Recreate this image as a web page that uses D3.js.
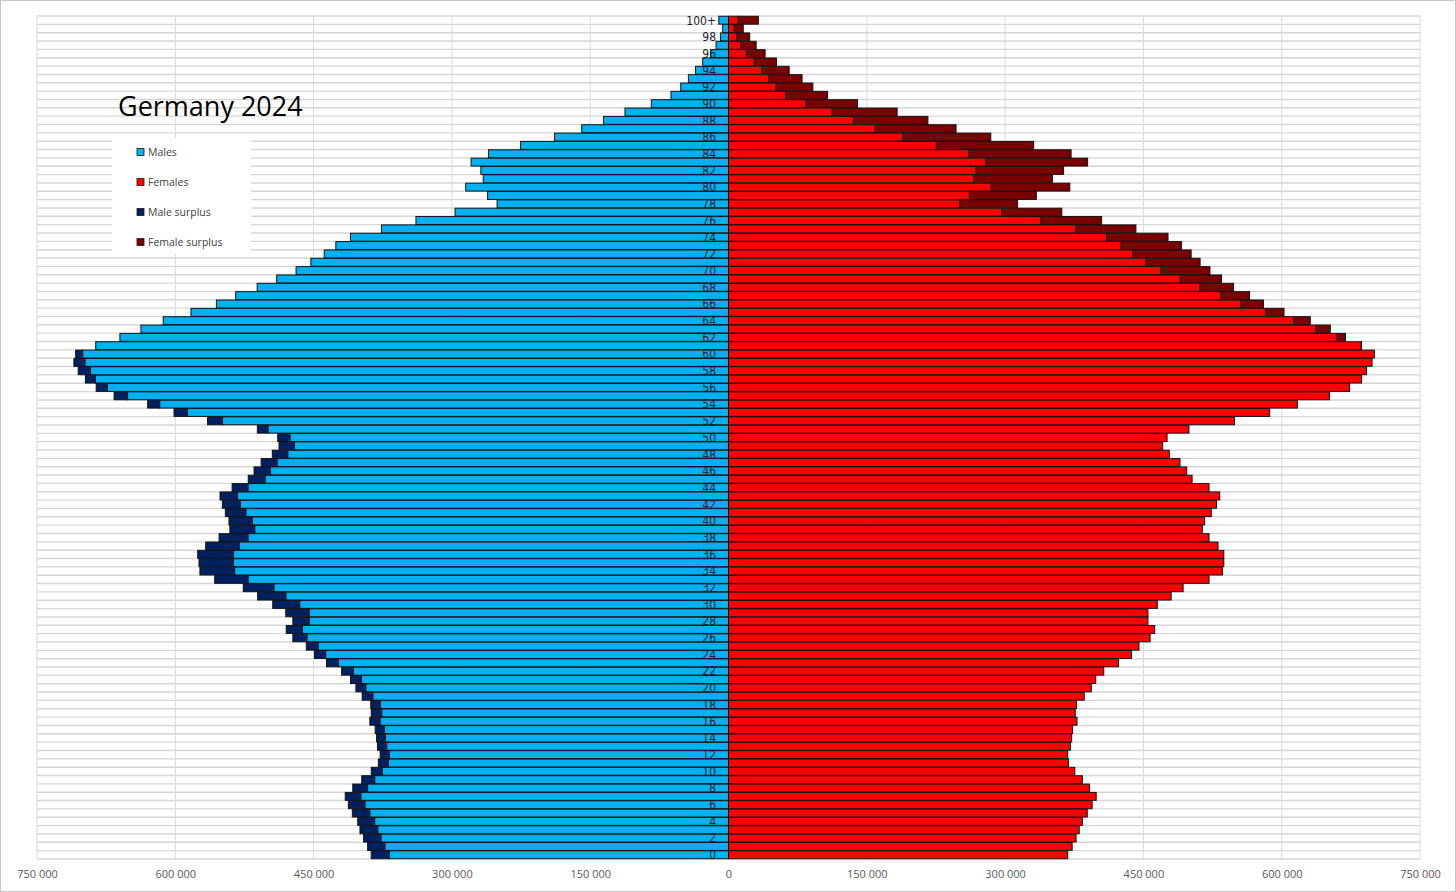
<!DOCTYPE html>
<html>
<head>
<meta charset="utf-8">
<script src="https://cdn.jsdelivr.net/npm/d3@7"></script>
<style>
  body { margin: 0; background: #fff; }
  svg { display: block; font-family: "Open Sans", "Liberation Sans", sans-serif; }
</style>
</head>
<body>
<div id="pyramid"></div>
<script>
// ages 0 .. 100 (100 = "100+")
const ages = d3.range(0, 101);

// population by single year of age, in thousands
const males = [
  387.5, 391.4, 395.8, 399.7, 402.1, 408.0, 412.3, 415.7, 407.5, 397.8,
  387.5, 379.8, 377.8, 380.7, 381.7, 383.2, 389.0, 387.5, 388.0, 397.3,
  404.1, 410.0, 419.6, 436.0, 449.1, 457.9, 472.5, 479.7, 472.5, 480.2,
  494.3, 510.7, 526.3, 557.3, 573.3, 574.3, 575.7, 567.0, 552.5, 540.8,
  541.8, 545.7, 549.0, 551.5, 538.4, 520.9, 514.6, 506.9, 494.8, 487.5,
  488.9, 511.0, 565.0, 601.4, 630.0, 666.4, 685.8, 697.5, 705.3, 710.0,
  708.1, 686.3, 660.1, 637.3, 613.1, 583.0, 555.4, 534.5, 511.2, 490.0,
  469.0, 453.0, 438.5, 425.9, 410.0, 376.4, 339.0, 296.6, 251.0, 261.3,
  285.0, 266.0, 268.6, 279.2, 260.3, 225.5, 188.7, 159.2, 135.5, 112.3,
  83.7, 62.4, 51.8, 43.5, 35.8, 28.0, 19.4, 13.5, 8.7, 6.3,
  10.5
];

const females = [
  367.9, 372.7, 377.0, 380.4, 383.8, 389.1, 394.4, 398.8, 391.5, 383.8,
  375.6, 368.8, 367.9, 370.8, 372.2, 373.2, 378.0, 376.1, 377.5, 385.8,
  393.5, 398.3, 407.0, 423.0, 437.0, 445.2, 457.3, 462.2, 454.9, 454.9,
  465.1, 480.1, 493.1, 521.2, 535.7, 537.2, 537.2, 530.9, 521.2, 513.9,
  516.4, 523.6, 529.4, 532.8, 521.2, 502.8, 497.0, 489.7, 478.1, 470.9,
  475.7, 499.4, 548.8, 587.0, 617.0, 651.8, 673.6, 686.6, 692.0, 698.0,
  700.5, 686.5, 669.2, 652.7, 631.0, 602.5, 580.2, 565.2, 547.8, 534.7,
  522.2, 511.5, 501.8, 491.2, 476.7, 441.9, 404.7, 361.5, 313.6, 333.9,
  370.2, 351.3, 363.4, 389.5, 371.6, 331.0, 284.5, 246.8, 216.3, 182.9,
  139.9, 107.4, 91.5, 79.8, 65.8, 52.0, 39.7, 30.0, 23.0, 16.0,
  32.4
];

const xTicks = [-750000, -600000, -450000, -300000, -150000, 0, 150000, 300000, 450000, 600000, 750000];
const seriesNames = ['Males', 'Females', 'Male surplus', 'Female surplus'];
const seriesColors = ['#00b0f0', '#ff0000', '#002060', '#7b0000'];
const title = 'Germany 2024';

const width = 1456;
const height = 892;

const data = ages.map((a, i) => {
  const m = males[i] * 1000;
  const f = females[i] * 1000;
  const common = Math.min(m, f);
  return { age: a, common: common, m: m, f: f };
});

const svg = d3.select('#pyramid').append('svg')
  .attr('width', width)
  .attr('height', height);

svg.append('rect')
  .attr('x', 0.5).attr('y', 0.5)
  .attr('width', width - 1).attr('height', height - 1)
  .attr('fill', '#fff')
  .attr('stroke', '#c8c8c8');

const xScale = d3.scaleLinear()
  .domain([-750000, 750000])
  .range([37, 1420]);

const plotTop = 16, plotBottom = 859;

const yScale = d3.scaleBand()
  .domain(ages)
  .range([plotBottom, plotTop])
  .paddingInner(0.05)
  .paddingOuter(0.03);

// horizontal gridlines at category boundaries
svg.append('g')
  .selectAll('line')
  .data(d3.range(0, 102))
  .join('line')
  .attr('x1', xScale(-750000))
  .attr('x2', xScale(750000))
  .attr('y1', i => plotBottom - i * (plotBottom - plotTop) / 101)
  .attr('y2', i => plotBottom - i * (plotBottom - plotTop) / 101)
  .attr('stroke', '#d6d6d6')
  .attr('stroke-width', 1.4);

// vertical gridlines
svg.append('g')
  .selectAll('line')
  .data(xTicks)
  .join('line')
  .attr('x1', d => xScale(d))
  .attr('x2', d => xScale(d))
  .attr('y1', plotTop)
  .attr('y2', plotBottom)
  .attr('stroke', '#d9d9d9');

const bars = svg.append('g')
  .attr('stroke', '#141414')
  .attr('stroke-width', 1);

// males (shared part)
bars.selectAll('rect.males')
  .data(data)
  .join('rect')
  .attr('class', 'males')
  .attr('x', d => xScale(-d.common))
  .attr('width', d => xScale(0) - xScale(-d.common))
  .attr('y', d => yScale(d.age))
  .attr('height', yScale.bandwidth())
  .attr('fill', seriesColors[0]);

// females (shared part)
bars.selectAll('rect.females')
  .data(data)
  .join('rect')
  .attr('class', 'females')
  .attr('x', xScale(0))
  .attr('width', d => xScale(d.common) - xScale(0))
  .attr('y', d => yScale(d.age))
  .attr('height', yScale.bandwidth())
  .attr('fill', seriesColors[1]);

// male surplus
bars.selectAll('rect.msurplus')
  .data(data.filter(d => d.m > d.f))
  .join('rect')
  .attr('class', 'msurplus')
  .attr('x', d => xScale(-d.m))
  .attr('width', d => xScale(-d.common) - xScale(-d.m))
  .attr('y', d => yScale(d.age))
  .attr('height', yScale.bandwidth())
  .attr('fill', seriesColors[2]);

// female surplus
bars.selectAll('rect.fsurplus')
  .data(data.filter(d => d.f > d.m))
  .join('rect')
  .attr('class', 'fsurplus')
  .attr('x', d => xScale(d.common))
  .attr('width', d => xScale(d.f) - xScale(d.common))
  .attr('y', d => yScale(d.age))
  .attr('height', yScale.bandwidth())
  .attr('fill', seriesColors[3]);

// age labels (every second age)
svg.append('g')
  .selectAll('text')
  .data(ages.filter(a => a % 2 === 0))
  .join('text')
  .attr('x', 716)
  .attr('y', a => yScale(a) + yScale.bandwidth() / 2)
  .attr('dy', '0.36em')
  .attr('text-anchor', 'end')
  .attr('font-family', '"Liberation Sans Narrow", "DejaVu Sans Condensed", "Liberation Sans", sans-serif')
  .attr('font-size', 12)
  .attr('fill', '#1c1c2a')
  .text(a => a === 100 ? '100+' : a);

// x axis labels
const loc = d3.formatLocale({ decimal: ',', thousands: '\u00a0', grouping: [3], currency: ['', ''] });
const fmt = loc.format(',d');

const xAxisG = svg.append('g')
  .attr('transform', `translate(0, ${plotBottom})`)
  .call(d3.axisBottom(xScale)
    .tickValues(xTicks)
    .tickSize(0)
    .tickPadding(11)
    .tickFormat(d => fmt(Math.abs(d))));

xAxisG.select('.domain').remove();
xAxisG.selectAll('text')
  .attr('font-size', 11)
  .attr('font-family', '"Open Sans", "Liberation Sans", sans-serif')
  .attr('fill', '#595959');

// title
svg.append('text')
  .attr('x', 118)
  .attr('y', 116)
  .attr('font-size', 27)
  .attr('fill', '#000')
  .text(title);

// legend
const legend = svg.append('g');
legend.append('rect')
  .attr('x', 112).attr('y', 138)
  .attr('width', 139).attr('height', 116)
  .attr('fill', '#fff');

const items = legend.selectAll('g')
  .data(seriesNames)
  .join('g')
  .attr('transform', (d, i) => `translate(137, ${152 + i * 30})`);

items.append('rect')
  .attr('x', 0).attr('y', -3.5)
  .attr('width', 7).attr('height', 7)
  .attr('fill', (d, i) => seriesColors[i])
  .attr('stroke', '#1a1a1a')
  .attr('stroke-width', 0.8);

items.append('text')
  .attr('x', 11)
  .attr('y', 0)
  .attr('dy', '0.35em')
  .attr('font-size', 10.5)
  .attr('fill', '#404040')
  .text(d => d);
</script>
</body>
</html>
